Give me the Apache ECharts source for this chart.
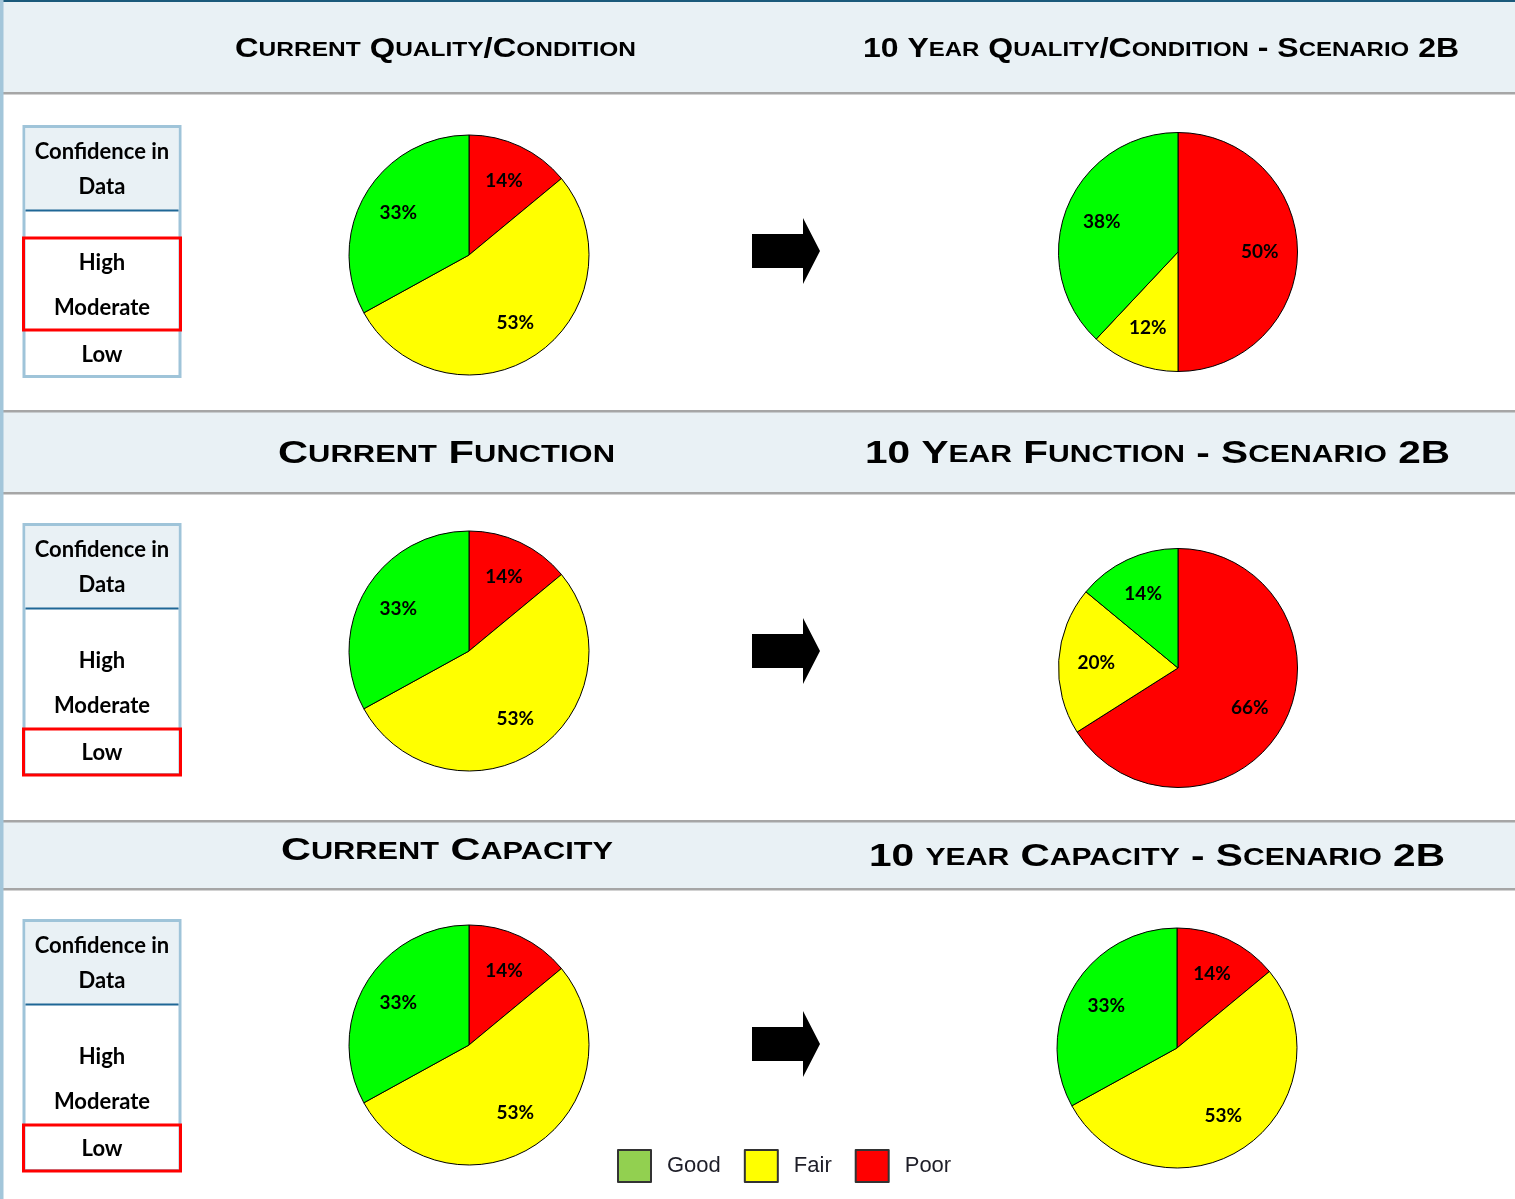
<!DOCTYPE html>
<html><head><meta charset="utf-8">
<script src="https://cdn.jsdelivr.net/npm/echarts@6/dist/echarts.min.js"></script>
<style>html,body{margin:0;padding:0;background:#fff}#c{width:1515px;height:1199px}</style>
</head><body><div id="c"></div>
<script>
// ---- data ----
const categories = ['Poor', 'Fair', 'Good'];          // slice order, clockwise from 12 o'clock
const currentQuality  = [14, 53, 33];
const futureQuality   = [50, 12, 38];
const currentFunction = [14, 53, 33];
const futureFunction  = [66, 20, 14];
const currentCapacity = [14, 53, 33];
const futureCapacity  = [14, 53, 33];
const legendNames = ['Good', 'Fair', 'Poor'];
const confidenceLevels = ['High', 'Moderate', 'Low'];
const confidenceTitle = ['Confidence in', 'Data'];
const selectedConfidence = [['High', 'Moderate'], ['Low'], ['Low']];
const leftTitles  = ['Current Quality/Condition', 'Current Function', 'Current Capacity'];
const rightTitles = ['10 Year Quality/Condition - Scenario 2B', '10 Year Function - Scenario 2B', '10 year Capacity - Scenario 2B'];

// ---- styles / layout ----
const pieColors = { Poor: '#ff0000', Fair: '#ffff00', Good: '#00ff00' };
const legendColors = { Good: '#92d050', Fair: '#ffff00', Poor: '#ff0000' };
const bandFill = '#e9f1f5', greyLine = '#a6a6a6', boxBlue = '#9fc4d9', darkBlue = '#1f6796';
const titleFont = '"Liberation Sans"';

const pieLayout = [
  { values: currentQuality,  center: [469, 255],  r: 120 },
  { values: futureQuality,   center: [1178, 252], r: 119.5 },
  { values: currentFunction, center: [469, 651],  r: 120 },
  { values: futureFunction,  center: [1178, 668], r: 119.5 },
  { values: currentCapacity, center: [469, 1045], r: 120 },
  { values: futureCapacity,  center: [1177, 1048], r: 120 }
];
const bands = [ { top: 2, bottom: 92 }, { top: 410, bottom: 492 }, { top: 820, bottom: 888 } ];
const titleLayout = [
  { left: { cx: 435.5, cy: 46, w: 401, size: 28 }, right: { cx: 1161, cy: 46, w: 596, size: 28 } },
  { left: { cx: 446.5, cy: 451, w: 337, size: 31 }, right: { cx: 1157.5, cy: 451, w: 585, size: 31 } },
  { left: { cx: 447, cy: 848, w: 332, size: 31 }, right: { cx: 1157, cy: 854, w: 576, size: 31 } }
];
const boxTops = [125, 523, 919];
const arrowCenters = [251, 651, 1044];

function pieData(vals, transparent) {
  return categories.map((n, i) => ({
    name: n, value: vals[i],
    itemStyle: { color: transparent ? 'rgba(0,0,0,0)' : pieColors[n] }
  }));
}

const series = [];
pieLayout.forEach(p => {
  series.push({
    type: 'pie', center: p.center, radius: [0, p.r], startAngle: 90, clockwise: true,
    data: pieData(p.values, false), label: { show: false }, labelLine: { show: false },
    itemStyle: { borderColor: '#000', borderWidth: 1 }, emphasis: { disabled: true },
    silent: true, animation: false, z: 2
  });
  series.push({
    type: 'pie', center: p.center, radius: [p.r * 0.32, p.r], startAngle: 90, clockwise: true,
    data: pieData(p.values, true), labelLine: { show: false },
    label: { show: true, position: 'inside', formatter: '{c}%', fontFamily: 'Lato', fontWeight: 'bold', fontSize: 19, color: '#000' },
    itemStyle: { borderWidth: 0 }, emphasis: { disabled: true },
    silent: true, animation: false, legendHoverLink: false, z: 3
  });
});

// ---- graphic (frame, headers, confidence boxes, arrows) ----
const g = [];
g.push({ type: 'rect', shape: { x: 0, y: 0, width: 1515, height: 2 }, style: { fill: '#1b5a7b' } });
bands.forEach((b, i) => {
  g.push({ type: 'rect', shape: { x: 3, y: b.top, width: 1512, height: b.bottom - b.top }, style: { fill: bandFill } });
  if (i > 0) g.push({ type: 'rect', shape: { x: 3, y: b.top, width: 1512, height: 2.5 }, style: { fill: greyLine } });
  g.push({ type: 'rect', shape: { x: 3, y: b.bottom, width: 1512, height: 2.5 }, style: { fill: greyLine } });
});
g.push({ type: 'rect', shape: { x: 0, y: 0, width: 3.5, height: 1199 }, style: { fill: '#a3c6da' } });

// small-caps title: capital runs at full size, lower-case runs as slightly enlarged small caps
const mctx = document.createElement('canvas').getContext('2d');
function titleEl(text, t) {
  const runs = text.match(/[a-z]+|[^a-z]+/g);
  const capFont = 'bold ' + t.size + 'px ' + titleFont;
  const scSize = Math.round(t.size * 1.08);
  const scFont = 'small-caps bold ' + scSize + 'px ' + titleFont;
  let w = 0, rich = '';
  runs.forEach(r => {
    const lower = /^[a-z]/.test(r);
    mctx.font = lower ? scFont : capFont;
    w += mctx.measureText(r).width;
    rich += '{' + (lower ? 'b' : 'a') + '|' + r + '}';
  });
  return {
    type: 'text', x: t.cx, y: t.cy, scaleX: t.w / (w || t.w), scaleY: 1,
    style: {
      text: rich, fill: '#000', align: 'center', verticalAlign: 'middle', textAlign: 'center', textVerticalAlign: 'middle',
      rich: {
        a: { fontWeight: 'bold', fontSize: t.size, fontFamily: 'Liberation Sans', fill: '#000', lineHeight: t.size * 1.2, verticalAlign: 'bottom' },
        b: { fontStyle: 'small-caps', fontWeight: 'bold', fontSize: scSize, fontFamily: 'Liberation Sans', fill: '#000', lineHeight: t.size * 1.2, verticalAlign: 'bottom' }
      }
    }
  };
}
titleLayout.forEach((t, i) => {
  g.push(titleEl(leftTitles[i], t.left));
  g.push(titleEl(rightTitles[i], t.right));
});

const boxText = { fontFamily: 'Lato', fontWeight: 'bold', fontSize: 22, fill: '#000', align: 'center', verticalAlign: 'middle', textAlign: 'center', textVerticalAlign: 'middle' };
const levelOffsets = { High: 138, Moderate: 183, Low: 230 };
boxTops.forEach((top, i) => {
  g.push({ type: 'rect', shape: { x: 24, y: top + 1.5, width: 156, height: 250 }, style: { fill: '#fff', stroke: boxBlue, lineWidth: 3 } });
  g.push({ type: 'rect', shape: { x: 25.5, y: top + 3, width: 153, height: 82 }, style: { fill: bandFill } });
  g.push({ type: 'line', shape: { x1: 25.5, y1: top + 85.5, x2: 178.5, y2: top + 85.5 }, style: { stroke: darkBlue, lineWidth: 2 } });
  g.push({ type: 'text', x: 102, y: top + 27, style: Object.assign({ text: confidenceTitle[0] }, boxText) });
  g.push({ type: 'text', x: 102, y: top + 62, style: Object.assign({ text: confidenceTitle[1] }, boxText) });
  confidenceLevels.forEach(l => {
    g.push({ type: 'text', x: 102, y: top + levelOffsets[l], style: Object.assign({ text: l }, boxText) });
  });
  const sel = selectedConfidence[i];
  const y0 = sel.includes('High') ? top + 113 : (sel.includes('Moderate') ? top + 160 : top + 206);
  const y1 = sel.includes('Low') ? top + 252 : (sel.includes('Moderate') ? top + 205 : top + 160);
  g.push({ type: 'rect', shape: { x: 23.5, y: y0, width: 157, height: y1 - y0 }, style: { fill: null, stroke: '#ff0000', lineWidth: 3 } });
});

arrowCenters.forEach(cy => {
  g.push({ type: 'polygon', shape: { points: [[752, cy - 17], [803, cy - 17], [803, cy - 33], [820, cy], [803, cy + 33], [803, cy + 17], [752, cy + 17]] },
    style: { fill: '#000' } });
});

const option = {
  backgroundColor: '#fff',
  animation: false,
  legend: {
    data: legendNames.map(n => ({ name: n, itemStyle: { color: legendColors[n], borderColor: '#333', borderWidth: 2 } })),
    left: 612, top: 1144, itemWidth: 33, itemHeight: 32, itemGap: 23, icon: 'rect', selectedMode: false,
    textStyle: { fontFamily: 'Liberation Sans', fontSize: 22, color: '#1e1e28', padding: [0, 0, 0, 11] }
  },
  graphic: { elements: g },
  series: series
};
const chart = echarts.init(document.getElementById('c'), null, { renderer: 'canvas', width: 1515, height: 1199 });
chart.setOption(option);
</script>
</body></html>
